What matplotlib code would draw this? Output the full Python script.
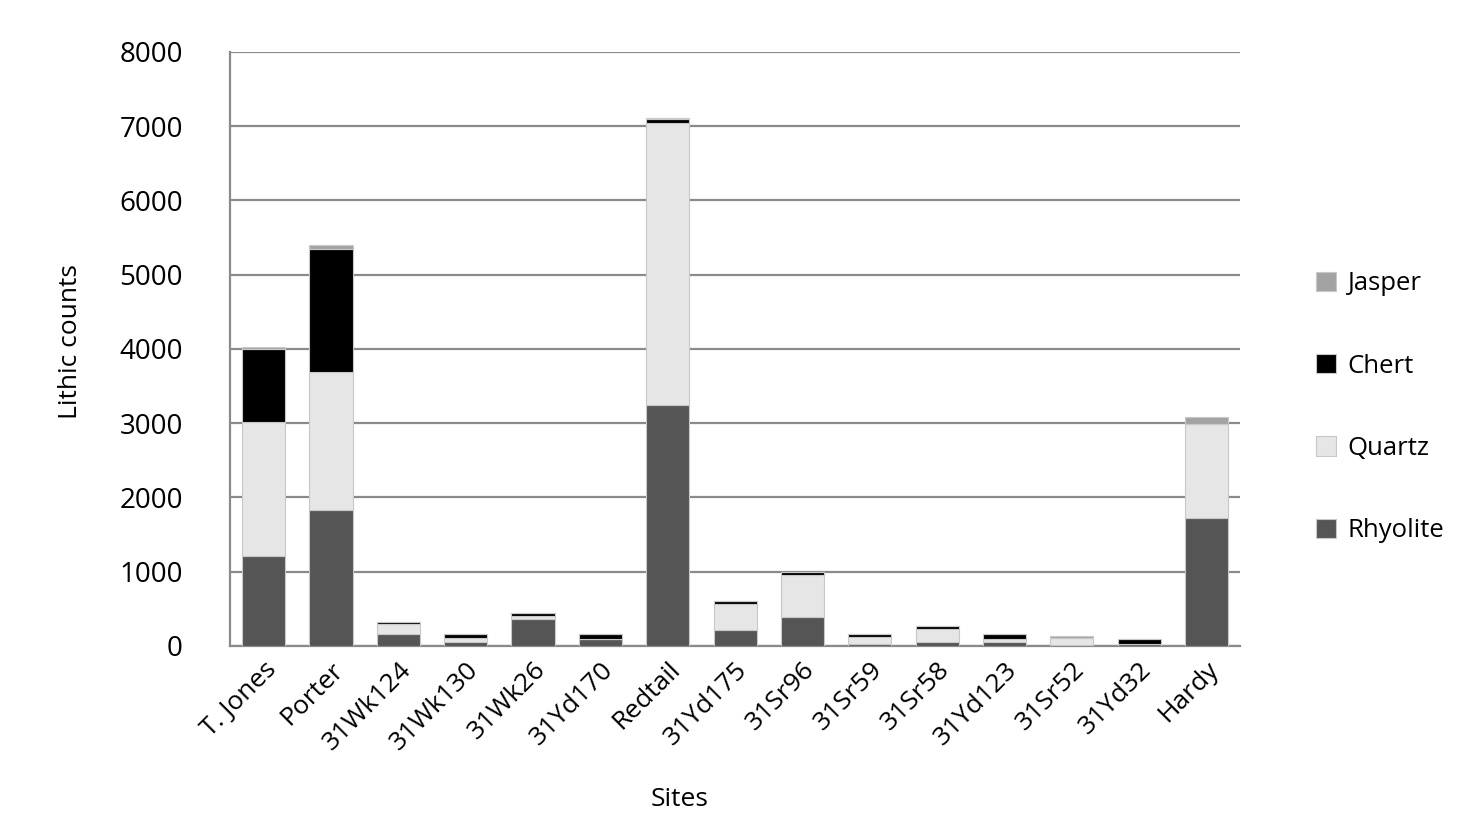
import numpy as np
import matplotlib
matplotlib.use("Agg")
import matplotlib.pyplot as plt

# Lithic counts per site
sites = ["T. Jones", "Porter", "31Wk124", "31Wk130", "31Wk26", "31Yd170",
         "Redtail", "31Yd175", "31Sr96", "31Sr59", "31Sr58", "31Yd123",
         "31Sr52", "31Yd32", "Hardy"]
rhyolite = [1215, 1835, 160, 55, 360, 100, 3240, 215, 385, 25, 50, 55, 10, 25, 1720]
quartz = [1795, 1850, 135, 50, 45, 0, 3805, 350, 570, 100, 180, 45, 100, 0, 1270]
chert = [985, 1660, 30, 55, 40, 60, 55, 35, 45, 35, 35, 60, 0, 75, 0]
jasper = [30, 50, 0, 0, 0, 0, 15, 0, 0, 0, 0, 0, 25, 0, 90]

series = [("Rhyolite", rhyolite, "#555555"),
          ("Quartz", quartz, "#e6e6e6"),
          ("Chert", chert, "#000000"),
          ("Jasper", jasper, "#a3a3a3")]

plt.rcParams['font.family'] = ['Open Sans', 'DejaVu Sans']

fig = plt.figure(figsize=(14.78, 8.33), dpi=100)
ax = fig.add_axes([0.1556, 0.2245, 0.6835, 0.7131])

x = np.arange(len(sites))
bottom = np.zeros(len(sites))
handles = []
for name, vals, col in series:
    vals = np.array(vals, dtype=float)
    b = ax.bar(x, vals, 0.64, bottom=bottom, color=col, edgecolor="#c8c8c8",
               linewidth=0.8, label=name, zorder=3)
    handles.append(b)
    bottom += vals

ax.set_xlim(-0.5, len(sites) - 0.5)
ax.set_ylim(0, 8000)
ax.set_yticks(range(0, 8001, 1000))
ax.yaxis.grid(True, color="#8a8a8a", linewidth=1.6, zorder=0)
ax.set_axisbelow(True)

for s in ["top", "right"]:
    ax.spines[s].set_visible(False)
for s in ["left", "bottom"]:
    ax.spines[s].set_color("#8a8a8a")
    ax.spines[s].set_linewidth(1.6)

ax.tick_params(axis="y", length=0, pad=34, labelsize=20)
ax.tick_params(axis="x", length=0, pad=8, labelsize=19)
ax.set_xticks(x)
ax.set_xticklabels(sites, rotation=45, ha="right", rotation_mode="anchor")

ax.set_ylabel("Lithic counts", fontsize=19)
ax.yaxis.set_label_coords(-0.1455, 0.513)
ax.set_xlabel("Sites", fontsize=19)
ax.xaxis.set_label_coords(0.4455, -0.237)

fig.legend(handles[::-1], [h.get_label() for h in handles[::-1]],
           loc="center left", bbox_to_anchor=(0.882, 0.511), frameon=False,
           fontsize=18.5, labelspacing=2.23, handlelength=0.78, handleheight=0.78,
           handletextpad=0.42, borderpad=0)

fig.savefig("out.png", dpi=100)
